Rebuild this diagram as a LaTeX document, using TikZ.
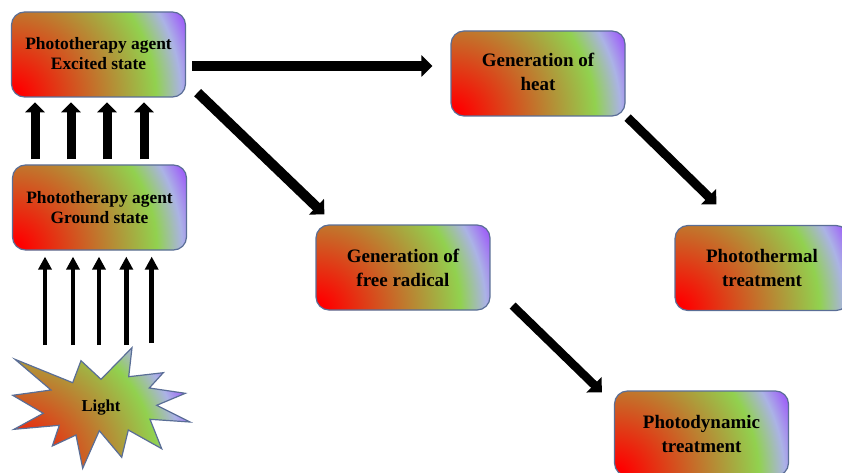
\documentclass[tikz,border=0pt]{standalone}
\usepackage{fontspec}
\setmainfont{Liberation Serif}
\usetikzlibrary{arrows.meta}
\newcommand{\photoshade}[4]{%
\pgfdeclarefunctionalshading{#1}{\pgfpoint{0bp}{0bp}}{\pgfpoint{100bp}{100bp}}{}{%
25 sub 2 mul #3 mul dup mul exch 25 sub 2 mul #2 mul dup mul add sqrt #4 div
dup .05 lt {pop 1 0 0}{
dup .74 lt {.05 sub .69 div dup dup .31 mul 0 add 3 1 roll .82 mul 0 add 3 1 roll -.43 mul 1 add 3 1 roll}{
dup .87 lt {.74 sub .13 div dup dup .59 mul .31 add 3 1 roll -.12 mul .82 add 3 1 roll .10 mul .57 add 3 1 roll}{
dup 1 gt {pop 1}{} ifelse
.87 sub .13 div dup dup .10 mul .90 add 3 1 roll -.45 mul .70 add 3 1 roll -.07 mul .67 add 3 1 roll} ifelse} ifelse} ifelse}}
\photoshade{boxshade}{1.74}{.85}{195}
\photoshade{starshade}{1.77}{1.21}{195}
\tikzset{
 x=1pt,y=-1pt,
 pbox/.style={shade,shading=boxshade,draw=edgecol,line width=1.2pt,rounded corners=13pt,minimum width=174pt,minimum height=85pt,inner sep=0pt,align=center,font=\bfseries\fontsize{19}{24}\selectfont},
 smalltext/.style={font=\bfseries\fontsize{17.4}{20.5}\selectfont},
 fat/.style={draw=black,line width=9pt,-{Triangle[length=10pt,width=19pt]}},
 thin/.style={draw=black,line width=4.7pt,-{Triangle[length=13pt,width=13pt]}},
 heavy/.style={draw=black,line width=10pt,-{Triangle[length=11pt,width=21pt]}},
 starshape/.style={shade,shading=starshade,draw=edgecol,line width=1.2pt,line join=miter}
}
\definecolor{edgecol}{HTML}{5A6E96}
\begin{document}
\begin{tikzpicture}
\useasboundingbox (0,0) rectangle (842,473);
\clip (0,0) rectangle (842,473);
\node[pbox,smalltext] (exc) at (98.5,54.5) {Phototherapy agent\\Excited state\rule[-2pt]{0pt}{0pt}};
\node[pbox,smalltext] (gnd) at (99.5,207.5) {Phototherapy agent\\Ground state};
\node[pbox] (heat) at (538,73.5) {Generation of\\heat\rule[-4pt]{0pt}{0pt}};
\node[pbox] (rad) at (403,267.5) {Generation of\\free radical};
\node[pbox] (thermal) at (762,268) {Photothermal\\treatment};
\node[pbox] (dyn) at (701.5,433.5) {Photodynamic\\treatment};
\path[starshape] (15,359.3)--(72.7,382.7)--(81,360.7)--(101,379.3)--(132,347.7)--(128.7,376.7)--(163.3,372.7)--(149.3,388)--(185.3,393.3)--(156.7,405.3)--(190,422)--(150,419.3)--(161.7,448.7)--(128.3,430)--(121.7,457.3)--(99.3,430.7)--(82.7,468.3)--(76,435)--(52.3,446)--(59.3,425.3)--(14,429.3)--(43.3,413.3)--(12.7,395.3)--(51,390)--cycle;
\node[font=\bfseries\fontsize{16.7}{18}\selectfont] (light) at (101,408) {Light};
% fat arrows ground -> excited
\foreach \d in {-64.5,-28.5,7.5,44.5}
 \draw[fat] ([xshift=\d pt,yshift=5pt]gnd.north) -- ([xshift=\d pt+1pt,yshift=-4.7pt]exc.south);
% thin arrows light -> ground
\foreach \da/\db/\dy in {-56/-54.5/63,-28/-26.5/63,-2/-0.5/63,25.3/26.8/63,50.7/52.2/65}
 \draw[thin] ([xshift=\da pt,yshift=\dy pt]light.center) -- ([xshift=\db pt,yshift=-6pt]gnd.south);
\draw[heavy] ([shift={(6,11.5)}]exc.east) -- ([shift={(-18,-7.5)}]heat.west);
\draw[heavy] ([shift={(11.5,-5)}]exc.south east) -- ([shift={(9,-10)}]rad.north west);
\draw[heavy,line width=9pt] ([shift={(2,1)}]heat.south east) -- ([shift={(42,-20.5)}]thermal.north west);
\draw[heavy,line width=8.5pt] ([shift={(22,-5)}]rad.south east) -- ([shift={(-12,2)}]dyn.north west);
\end{tikzpicture}
\end{document}
